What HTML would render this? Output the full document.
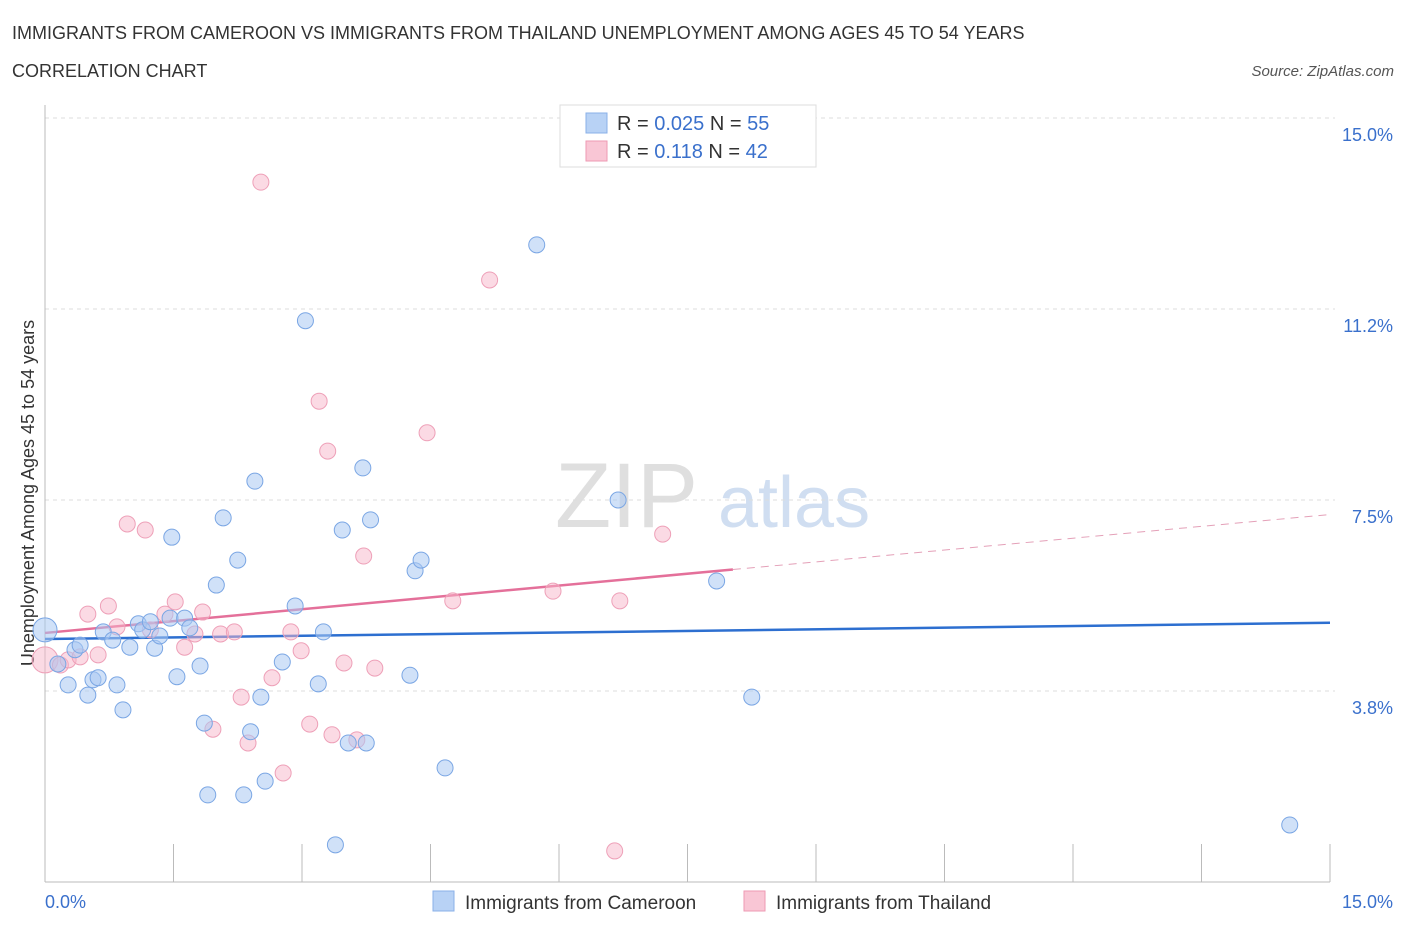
<!DOCTYPE html>
<html><head><meta charset="utf-8">
<style>
body{margin:0;background:#fff;font-family:"Liberation Sans",sans-serif;}
svg text{font-family:"Liberation Sans",sans-serif;}
</style></head>
<body>
<svg id="chart" width="1406" height="930" xmlns="http://www.w3.org/2000/svg">
<text x="12" y="39" font-size="18" fill="#333">IMMIGRANTS FROM CAMEROON VS IMMIGRANTS FROM THAILAND UNEMPLOYMENT AMONG AGES 45 TO 54 YEARS</text>
<text x="12" y="77" font-size="18" fill="#333">CORRELATION CHART</text>
<text x="1394" y="76" font-size="15" fill="#555" text-anchor="end" font-style="italic">Source: ZipAtlas.com</text>
<text x="555" y="527" font-size="92" fill="#d8d8d8" font-family="Liberation Serif" opacity="0.8">ZIP</text>
<text x="718" y="527" font-size="72" fill="#c5d7ee" opacity="0.8">atlas</text>
<text transform="translate(34,493) rotate(-90)" font-size="18" fill="#333" text-anchor="middle">Unemployment Among Ages 45 to 54 years</text>
<g id="grid"></g><g id="axes"></g><g id="trends"></g><g id="points"></g>
<g>
<rect x="560" y="105" width="256" height="62" fill="#fff" stroke="#ddd"/>
<rect x="586" y="113" width="21" height="20" fill="#b8d2f5" stroke="#8ab0e8"/>
<rect x="586" y="141" width="21" height="20" fill="#f9c6d5" stroke="#ee9ab3"/>
<text x="617" y="130" font-size="20" fill="#333">R = <tspan fill="#3a70cc">0.025</tspan>   N = <tspan fill="#3a70cc">55</tspan></text>
<text x="617" y="158" font-size="20" fill="#333">R =   <tspan fill="#3a70cc">0.118</tspan>   N = <tspan fill="#3a70cc">42</tspan></text>
</g>
<g>
<rect x="433" y="891" width="21" height="20" fill="#b8d2f5" stroke="#8ab0e8"/>
<text x="465" y="909" font-size="19" fill="#333">Immigrants from Cameroon</text>
<rect x="744" y="891" width="21" height="20" fill="#f9c6d5" stroke="#ee9ab3"/>
<text x="776" y="909" font-size="19" fill="#333">Immigrants from Thailand</text>
</g>
</svg>
<script>
const blueX=[0,0.15,0.27,0.35,0.41,0.5,0.56,0.62,0.68,0.79,0.84,0.91,0.99,1.09,1.14,1.23,1.28,1.34,1.46,1.48,1.54,1.63,1.69,1.81,1.86,1.9,2.0,2.08,2.25,2.32,2.4,2.45,2.52,2.57,2.77,2.92,3.04,3.19,3.25,3.39,3.47,3.54,3.71,3.75,3.8,4.26,4.32,4.39,4.67,5.74,6.69,7.84,8.25,14.53];
const blueY=[4.95,4.28,3.87,4.56,4.65,3.67,3.97,4.01,4.91,4.75,3.87,3.38,4.61,5.07,4.95,5.11,4.59,4.83,5.18,6.77,4.03,5.18,4.99,4.24,3.12,1.71,5.83,7.15,6.32,1.71,2.95,7.87,3.63,1.98,4.32,5.42,11.02,3.89,4.91,0.73,6.91,2.73,8.13,2.73,7.11,4.06,6.11,6.32,2.24,12.51,7.5,5.91,3.63,1.12];
const pinkX=[0,0.18,0.27,0.41,0.5,0.62,0.74,0.84,0.96,1.17,1.23,1.4,1.52,1.63,1.75,1.84,1.96,2.05,2.21,2.29,2.37,2.52,2.65,2.78,2.87,2.99,3.09,3.2,3.3,3.35,3.49,3.64,3.72,3.85,4.46,4.76,5.19,5.93,6.65,6.71,7.21];
const pinkY=[4.36,4.26,4.36,4.42,5.26,4.46,5.42,5.01,7.03,6.91,4.95,5.26,5.5,4.61,4.87,5.3,3.0,4.87,4.91,3.63,2.73,13.74,4.01,2.14,4.91,4.54,3.1,9.44,8.46,2.89,4.3,2.79,6.4,4.2,8.82,5.52,11.82,5.71,0.61,5.52,6.83];
const yTicks=[3.75,7.5,11.25,15];
const yTickLabels=["3.8%","7.5%","11.2%","15.0%"];
const blueTrend=[4.77,0.0213];
const pinkTrend=[4.89,0.155];
const NS="http://www.w3.org/2000/svg";
const X0=45,X1=1330,Y0=882,Y1=118;
const sx=v=>X0+(X1-X0)*v/15, sy=v=>Y0-(Y0-Y1)*v/15;
function mk(t,a,p){const e=document.createElementNS(NS,t);for(const k in a)e.setAttribute(k,a[k]);p.appendChild(e);return e;}
const grid=document.getElementById('grid'),axes=document.getElementById('axes');
yTicks.forEach((t,i)=>{
 const l=mk('line',{x1:X0,x2:X1+5,y1:sy(t),y2:sy(t),stroke:'#ddd','stroke-dasharray':'4,4'},grid);
 
 
 const tx=mk('text',{x:1393,y:sy(t)+23,'font-size':18,fill:'#3a70cc','text-anchor':'end'},axes);
 tx.textContent=yTickLabels[i];
 
 
});
const xa=mk('line',{x1:X0,x2:X1,y1:Y0,y2:Y0,stroke:'#bbb'},axes);


const ya=mk('line',{x1:X0,x2:X0,y1:105,y2:Y0,stroke:'#bbb'},axes);


for(let i=1;i<=10;i++){const t=mk('line',{x1:sx(i*1.5),x2:sx(i*1.5),y1:Y0,y2:Y0-38,stroke:'#bbb'},axes);
 
 }
[["0.0%",45,"start"],["15.0%",1393,"end"]].forEach(a=>{const t=mk('text',{x:a[1],y:908,'font-size':18,fill:'#3a70cc','text-anchor':a[2]},axes);t.textContent=a[0];
 
 });
const tr=document.getElementById('trends');
const bl=mk('line',{x1:sx(0),y1:sy(blueTrend[0]),x2:sx(15),y2:sy(blueTrend[0]+15*blueTrend[1]),stroke:'#2d6fd0','stroke-width':2.5},tr);


const pEnd=8.03;
const pl=mk('line',{x1:sx(0),y1:sy(pinkTrend[0]),x2:sx(pEnd),y2:sy(pinkTrend[0]+pEnd*pinkTrend[1]),stroke:'#e4709a','stroke-width':2.5},tr);


const pd=mk('line',{x1:sx(pEnd),y1:sy(pinkTrend[0]+pEnd*pinkTrend[1]),x2:sx(15),y2:sy(pinkTrend[0]+15*pinkTrend[1]),stroke:'#e4a0b8','stroke-width':1,'stroke-dasharray':'8,6'},tr);


const pts=document.getElementById('points');
pinkX.forEach((x,i)=>{const c=mk('circle',{cx:sx(x),cy:sy(pinkY[i]),r:i==0?13:8,fill:'rgba(247,182,202,0.5)',stroke:'#eea0b8','stroke-width':1},pts);
 
 });
blueX.forEach((x,i)=>{const c=mk('circle',{cx:sx(x),cy:sy(blueY[i]),r:i==0?12:8,fill:'rgba(170,200,242,0.55)',stroke:'#7aa6e4','stroke-width':1},pts);
 
 });
</script>
</body></html>
